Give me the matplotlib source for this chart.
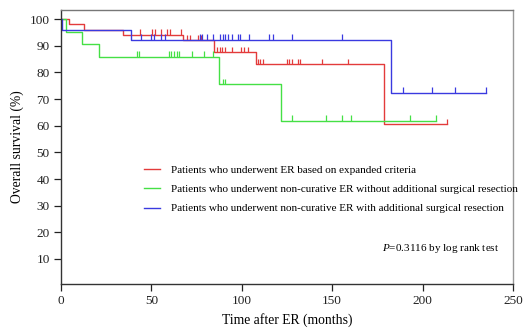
import numpy as np
import matplotlib; matplotlib.use("Agg"); import matplotlib.pyplot as plt
from matplotlib.lines import Line2D

plt.rcParams["font.family"] = ["Liberation Serif", "DejaVu Serif"]
plt.rcParams["mathtext.fontset"] = "custom"
plt.rcParams["mathtext.it"] = "Liberation Serif:italic"
plt.rcParams["mathtext.rm"] = "Liberation Serif"

# step curves: event times (months) and survival level after each event (%)
red_t = [0, 4.2, 12.5, 34.2, 67.7, 84.8, 108.0, 178.5]
red_s = [100, 98.0, 96.0, 94.0, 92.0, 87.5, 83.0, 60.5]
red_end = 213.6
red_cens = [43.5, 50.6, 52.2, 55.2, 58.5, 60.2, 66.6, 69.5, 71.4, 76.0, 77.5,
            86.5, 88.0, 89.2, 90.5, 94.5, 99.5, 101.5, 103.5,
            109.1, 110.0, 111.5, 124.8, 126.1, 127.6, 130.9, 132.2, 144.2, 158.9, 213.6]

green_t = [0, 3.0, 11.6, 20.8, 87.6, 121.6]
green_s = [100, 95.2, 90.5, 85.7, 75.5, 61.9]
green_end = 207.7
green_cens = [42.0, 43.3, 59.5, 60.9, 62.6, 64.0, 65.5, 72.3, 79.3, 83.9,
              89.8, 90.7, 128.0, 146.4, 155.6, 160.4, 193.0, 207.7]

blue_t = [0, 0.5, 38.8, 182.4]
blue_s = [100, 95.8, 92.1, 72.4]
blue_end = 235.3
blue_cens = [44.5, 50.0, 51.5, 55.5, 57.6, 76.9, 77.9, 80.6, 84.3, 88.0, 89.5,
             90.9, 92.6, 94.4, 98.1, 99.0, 104.0, 115.2, 117.4, 128.0, 155.6,
             189.3, 205.3, 218.2, 235.3]

labels = ["Patients who underwent ER based on expanded criteria",
          "Patients who underwent non-curative ER without additional surgical resection",
          "Patients who underwent non-curative ER with additional surgical resection"]
colors = ["#e33b3b", "#45e045", "#3a3ae0"]

fig = plt.figure(figsize=(5.28, 3.28), dpi=100)
ax = fig.add_axes([0.1155, 0.134, 0.856, 0.8355])

series = [(red_t, red_s, red_end, red_cens), (green_t, green_s, green_end, green_cens),
          (blue_t, blue_s, blue_end, blue_cens)]
for (t, s, end, cens), c in zip(series, colors):
    tt = np.append(t, end); ss = np.append(s, s[-1])
    ax.step(tt, ss, where="post", color=c, lw=1.0)
    idx = np.searchsorted(t, cens, side="right") - 1
    lev = np.asarray(s)[idx]
    ax.vlines(cens, lev, lev + 2.2, color=c, lw=0.9)

handles = [Line2D([], [], color=c, lw=1.0) for c in colors]
ax.legend(handles, labels, loc="upper left", bbox_to_anchor=(0.272, 0.497),
          bbox_transform=fig.transFigure, frameon=False, fontsize=8.0,
          handlelength=1.5, handletextpad=1.0, labelspacing=0.86,
          borderpad=0, borderaxespad=0)

ax.text(0.945, 0.241, r"$P$=0.3116 by log rank test", transform=fig.transFigure,
        ha="right", va="center", fontsize=8.0)

ax.set_xlim(0, 250); ax.set_ylim(0.6, 103.4)
ax.set_xticks(np.arange(0, 251, 50)); ax.set_yticks(np.arange(10, 101, 10))
ax.tick_params(direction="out", length=5, width=0.9, labelsize=9.5, colors="#222222", pad=3)
for sp in ax.spines.values():
    sp.set_linewidth(1.0); sp.set_color("#333333")
ax.spines["right"].set_color("#999999"); ax.spines["top"].set_color("#777777")
ax.set_xlabel("Time after ER (months)", fontsize=9.8, labelpad=4)
ax.set_ylabel("Overall survival (%)", fontsize=9.8, labelpad=4)

fig.savefig("out.png", dpi=100)
